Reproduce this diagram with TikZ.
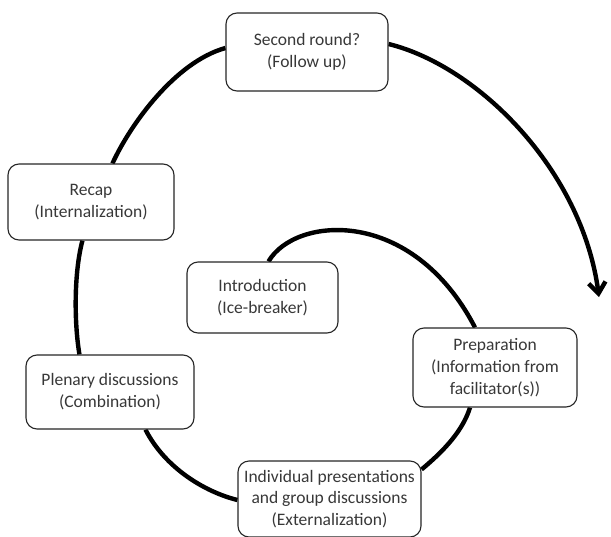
\documentclass[tikz,border=0pt]{standalone}
\usepackage{fontspec}
\setmainfont{Carlito}
\usetikzlibrary{arrows.meta}
\pgfdeclarelayer{bg}
\pgfsetlayers{bg,main}
\begin{document}
\begin{tikzpicture}[x=1pt,y=-1pt,
  stage/.style={draw=black!85,line width=1.1pt,rounded corners=11pt,align=center,
    font=\fontsize{17.5}{21.8}\selectfont,text=black!78,inner sep=0pt,fill=white},
  flow/.style={line width=4.4pt,black}]
\useasboundingbox (0,0) rectangle (611,536);
\node[stage,minimum width=162pt,minimum height=78pt] (second) at (307,52) {Second round?\\(Follow up)};
\node[stage,minimum width=166pt,minimum height=76pt] (recap) at (91,202) {Recap\\(Internalization)};
\node[stage,minimum width=151pt,minimum height=71pt] (intro) at (262.5,297.5) {Introduction\\(Ice-breaker)};
\node[stage,minimum width=164pt,minimum height=79pt] (prep) at (495,367.5) {Preparation\\(Information from\\facilitator(s))};
\node[stage,minimum width=168pt,minimum height=74pt] (plen) at (110,392) {Plenary discussions\\(Combination)};
\node[stage,minimum width=183pt,minimum height=76pt] (ind) at (329.5,499) {Individual presentations\\and group discussions\\(Externalization)};
\coordinate (tip) at (599,297);
\begin{pgfonlayer}{bg}
\draw[flow] ([xshift=6pt]intro.north) .. controls (295,216) and (412,206) .. ([xshift=-20pt]prep.north);
\draw[flow] ([xshift=-25pt]prep.south) .. controls (463,430) and (445,450) .. ([yshift=-9pt]ind.north east);
\draw[flow] ([yshift=-1pt]ind.west) .. controls (205,492) and (165,468) .. ([xshift=120pt]plen.south west);
\draw[flow] ([xshift=54pt]plen.north west) .. controls (74,322) and (74,272) .. ([xshift=75pt]recap.south west);
\draw[flow] ([xshift=105pt]recap.north west) .. controls (130,125) and (175,62) .. ([yshift=4pt]second.west);
\draw[flow,-{Straight Barb[length=11pt,width=17pt,line width=4.4pt]}] ([yshift=8pt]second.east) .. controls (478,66) and (582,170) .. (tip);
\end{pgfonlayer}
\end{tikzpicture}
\end{document}
